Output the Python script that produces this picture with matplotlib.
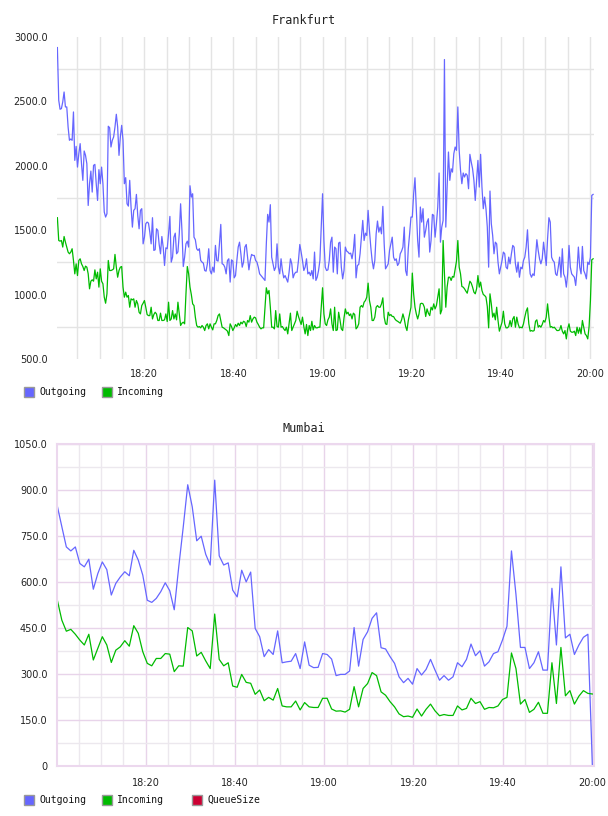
import numpy as np
import matplotlib
matplotlib.use("Agg")
import matplotlib.pyplot as plt
from matplotlib.patches import Rectangle
from matplotlib.ticker import FuncFormatter

# Frankfurt, values (bytes/s-ish), ~18 s samples 18:00 -> 20:01
fra_out = [2918, 2509, 2439, 2444, 2496, 2573, 2457, 2457, 2301, 2198,
           2208, 2198, 2418, 2042, 2151, 1990, 2094, 2172, 2016, 1887,
           2115, 2081, 2016, 1692, 1861, 1959, 1796, 2003, 2011, 1861,
           1731, 1970, 1861, 1990, 1861, 1641, 1602, 1628, 2307, 2296,
           2146, 2198, 2224, 2301, 2400, 2301, 2081, 2224, 2314, 2198,
           1861, 1908, 1705, 1687, 1887, 1680, 1524, 1654, 1667, 1778,
           1615, 1511, 1654, 1667, 1394, 1446, 1550, 1563, 1555, 1485,
           1394, 1597, 1343, 1348, 1511, 1498, 1389, 1317, 1451, 1369,
           1226, 1363, 1356, 1472, 1607, 1252, 1291, 1446, 1477, 1317,
           1332, 1472, 1705, 1498, 1218, 1291, 1394, 1415, 1369, 1845,
           1757, 1783, 1446, 1426, 1356, 1343, 1356, 1265, 1252, 1244,
           1187, 1182, 1239, 1356, 1187, 1161, 1213, 1174, 1382, 1265,
           1260, 1394, 1545, 1239, 1234, 1213, 1161, 1265, 1278, 1097,
           1270, 1260, 1130, 1148, 1265, 1369, 1407, 1317, 1213, 1252,
           1369, 1389, 1291, 1192, 1265, 1312, 1304, 1304, 1265, 1252,
           1213, 1161, 1148, 1135, 1122, 1110, 1394, 1623, 1563, 1698,
           1291, 1239, 1187, 1213, 1394, 1213, 1161, 1278, 1187, 1130,
           1148, 1122, 1097, 1174, 1278, 1239, 1130, 1161, 1174, 1174,
           1265, 1389, 1330, 1265, 1187, 1213, 1278, 1161, 1174, 1148,
           1187, 1122, 1330, 1110, 1135, 1187, 1265, 1524, 1783,
           1420, 1213, 1187, 1192, 1265, 1407, 1446, 1174, 1369, 1356,
           1161, 1400, 1407, 1213, 1122, 1187, 1369, 1338, 1330, 1317,
           1322, 1278, 1343, 1467, 1130, 1226, 1234, 1317, 1446, 1576,
           1420, 1477, 1459, 1654, 1498, 1369, 1265, 1200, 1265, 1472,
           1571, 1485, 1524, 1472, 1685, 1394, 1200, 1218, 1239, 1343,
           1394, 1446, 1291, 1265, 1278, 1226, 1244, 1317, 1338, 1369,
           1524, 1187, 1148, 1356, 1472, 1602, 1602, 1783, 1907, 1654,
           1420, 1291, 1680, 1563, 1667, 1446, 1498, 1563, 1589, 1330,
           1420, 1623, 1615, 1446, 1550, 1680, 1944, 1407, 1524, 1576,
           2825, 1524, 1835, 2107, 1887, 1977, 1951, 2094, 2146, 2120, 2457,
           2120, 1965, 1861, 1944, 1913, 1939, 1926, 1822, 2089, 2029,
           1977, 1887, 1731, 1887, 2042, 1835, 2089, 1835, 1667, 1757,
           1667, 1524, 1213, 1804, 1550, 1459, 1317, 1407, 1394, 1252,
           1161, 1213, 1265, 1330, 1317, 1213, 1200, 1291, 1239, 1317,
           1382, 1369, 1239, 1174, 1252, 1135, 1213, 1200, 1265, 1291,
           1369, 1503, 1291, 1161, 1135, 1161, 1148, 1291, 1426, 1343,
           1278, 1239, 1278, 1407, 1317, 1226, 1433, 1597, 1563, 1291,
           1265, 1252, 1161, 1148, 1213, 1291, 1135, 1356, 1161, 1135,
           1058, 1161, 1382, 1213, 1161, 1148, 1135, 1071, 1187, 1369,
           1213, 1161, 1374, 1187, 1161, 1122, 1252, 1234, 1291, 1770, 1778]

fra_in = [1597, 1420, 1415, 1420, 1369, 1451, 1407, 1369, 1330, 1317,
          1330, 1356, 1265, 1161, 1239, 1148, 1265, 1278, 1239, 1218,
          1187, 1221, 1213, 1161, 1045, 1104, 1115, 1104, 1192, 1122,
          1174, 1058, 1200, 1104, 1084, 980, 933, 1006, 1265, 1187,
          1187, 1192, 1200, 1312, 1213, 1135, 1187, 1213, 1218, 1058,
          980, 1019, 980, 993, 902, 967, 959, 967, 902, 954,
          928, 863, 850, 915, 933, 954, 902, 845, 837, 837,
          902, 811, 845, 863, 850, 799, 799, 856, 799, 799,
          804, 850, 791, 941, 799, 811, 876, 811, 850, 804,
          941, 850, 760, 778, 786, 773, 1006, 1218,
          1161, 1058, 1001, 928, 915, 825, 760, 747, 752, 742,
          760, 747, 721, 760, 773, 734, 773, 747, 726, 773,
          773, 799, 837, 850, 799, 747, 742, 734, 726, 716,
          682, 773, 752, 721, 742, 768, 752, 778, 760, 786,
          773, 793, 786, 752, 799, 786, 837, 786, 811, 825,
          819, 786, 768, 747, 734, 742, 742, 902, 1053, 1006,
          1032, 902, 747, 747, 734, 876, 752, 747, 850, 747,
          752, 734, 721, 747, 695, 773, 856, 721, 747, 773,
          799, 871, 830, 799, 768, 825, 752, 695, 768, 682,
          760, 721, 793, 726, 760, 742, 742, 747, 747, 902, 1053,
          850, 773, 760, 804, 825, 889, 773, 721, 902, 721,
          726, 863, 804, 734, 721, 819, 889, 850, 863, 837,
          850, 811, 856, 845, 734, 747, 773, 902, 915, 902,
          941, 954, 980, 1089, 954, 902, 799, 799, 825, 902,
          915, 902, 902, 928, 975, 825, 773, 768, 863, 837,
          845, 830, 830, 811, 799, 793, 786, 778, 804, 850,
          811, 752, 721, 799, 850, 902, 1167, 1006, 902, 850,
          811, 850, 928, 933, 928, 902, 830, 889, 856, 837,
          902, 881, 928, 889, 915, 980, 1045, 850, 881, 1420,
          1161, 902, 1058, 1135, 1135, 1110, 1141, 1135, 1200, 1260, 1420,
          1213, 1161, 1063, 1058, 1045, 1027, 1011, 1058, 1104, 1089,
          1058, 1019, 1006, 1045, 1148, 1058, 1097, 1032, 1001, 993,
          980, 907, 742, 1006, 928, 825, 856, 804, 902, 799,
          716, 752, 786, 871, 773, 742, 742, 752, 799, 752,
          811, 830, 747, 825, 773, 742, 747, 742, 773, 825,
          871, 897, 773, 716, 721, 716, 721, 793, 804, 747,
          760, 747, 768, 799, 786, 825, 928, 825, 747, 752,
          742, 747, 734, 721, 721, 726, 760, 716, 695, 721,
          656, 734, 773, 716, 708, 708, 716, 682, 747, 700,
          742, 695, 799, 747, 695, 682, 656, 752, 954, 1270, 1278]

# Mumbai, one sample per minute
mum_out = [848, 781, 715, 702, 715, 661, 650, 675, 577, 628,
           666, 641, 558, 596, 617, 634, 621, 704, 672, 623,
           541, 534, 547, 569, 598, 572, 510, 650, 780, 918,
           846, 735, 750, 691, 656, 933, 686, 656, 663, 574,
           552, 639, 601, 633, 449, 422, 357, 380, 364, 441,
           337, 340, 342, 367, 318, 405, 329, 321, 322, 367,
           364, 349, 295, 299, 299, 310, 452, 326, 413, 438,
           482, 500, 386, 382, 357, 335, 291, 272, 286, 267,
           318, 297, 315, 348, 313, 280, 295, 280, 291, 337,
           324, 348, 398, 360, 376, 326, 340, 367, 373, 411,
           456, 702, 560, 387, 387, 318, 337, 373, 313, 313,
           580, 395, 650, 418, 430, 364, 395, 420, 430, 0]

mum_in = [541, 476, 440, 446, 430, 411, 395, 430, 346, 384,
          422, 395, 338, 378, 389, 409, 391, 458, 433, 373,
          335, 327, 351, 351, 367, 365, 308, 327, 326, 452,
          441, 359, 371, 343, 318, 496, 348, 327, 337, 261,
          257, 299, 273, 270, 234, 248, 213, 224, 215, 253,
          196, 193, 193, 212, 183, 207, 193, 191, 191, 221,
          221, 186, 179, 180, 176, 185, 259, 193, 253, 269,
          305, 295, 242, 231, 210, 193, 170, 161, 163, 159,
          186, 163, 185, 202, 180, 164, 168, 165, 165, 196,
          183, 188, 221, 204, 210, 185, 191, 190, 196, 217,
          224, 369, 318, 202, 217, 175, 185, 208, 172, 172,
          337, 204, 387, 229, 246, 202, 228, 246, 237, 235]

mum_queue = [0] * len(mum_out)

# minutes after 18:00
fra_t = np.linspace(0.5, 120.7, len(fra_out))
fra_t_in = np.linspace(0.5, 120.7, len(fra_in))
mum_t = np.linspace(0.2, 120.1, len(mum_out))

C_OUT = "#6666ff"
C_IN = "#00bb00"
C_Q = "#cc0033"
W, H = 608, 816


def hhmm(m, pos=None):
    m = int(round(m))
    return "%d:%02d" % (18 + m // 60, m % 60)


def box(x0, y0, x1, y1):
    return [x0 / W, 1 - y1 / H, (x1 - x0) / W, (y1 - y0) / H]


def legend(y, items):
    for x, label, col in items:
        fig.add_artist(Rectangle((x / W, 1 - (y + 5) / H), 10 / W, 10 / H,
                                 transform=fig.transFigure, fc=col,
                                 ec="#999999", lw=1))
        fig.text((x + 15) / W, 1 - y / H, label, family="DejaVu Sans Mono",
                 fontsize=7, va="center", ha="left", color="#111111")


fig = plt.figure(figsize=(W / 100, H / 100), dpi=100)

# ---- Frankfurt
ax1 = fig.add_axes(box(57.3, 37, 594, 359))
ax1.plot(fra_t, fra_out, color=C_OUT, lw=0.9)
ax1.plot(fra_t_in, fra_in, color=C_IN, lw=0.9)
ax1.set_xlim(0.48, 120.9)
ax1.set_ylim(500, 3000)
ax1.set_xticks(range(20, 121, 20))
ax1.set_xticks(range(5, 121, 5), minor=True)
ax1.set_yticks(range(500, 3001, 500))
ax1.set_yticks(range(750, 3000, 500), minor=True)
ax1.xaxis.set_major_formatter(FuncFormatter(hhmm))
ax1.yaxis.set_major_formatter(FuncFormatter(lambda v, p: "%.1f" % v))
ax1.grid(axis="x", which="both", color="#e4e4e4", lw=1)
ax1.grid(axis="y", which="minor", color="#e4e4e4", lw=1)
ax1.set_axisbelow(True)
for s in ax1.spines.values():
    s.set_visible(False)
ax1.tick_params(which="both", length=0, labelsize=7, colors="#222222")
ax1.tick_params(axis="x", pad=7)
ax1.tick_params(axis="y", pad=7)
fig.text(0.5, 1 - 20 / H, "Frankfurt", ha="center", va="center",
         family="DejaVu Sans Mono", fontsize=8.5, color="#222222")
legend(392, [(24, "Outgoing", C_OUT), (102, "Incoming", C_IN)])

# ---- Mumbai
ax2 = fig.add_axes(box(57.3, 444.3, 594, 766))
ax2.plot(mum_t, mum_out, color=C_OUT, lw=0.9)
ax2.plot(mum_t, mum_in, color=C_IN, lw=0.9)
ax2.plot(mum_t, mum_queue, color=C_Q, lw=1.2, clip_on=False)
ax2.set_xlim(0.19, 120.46)
ax2.set_ylim(0, 1050)
ax2.set_xticks(range(20, 121, 20))
ax2.set_xticks(range(5, 121, 5), minor=True)
ax2.set_yticks(range(0, 1051, 150))
ax2.set_yticks(range(75, 1050, 150), minor=True)
ax2.xaxis.set_major_formatter(FuncFormatter(hhmm))
ax2.yaxis.set_major_formatter(FuncFormatter(lambda v, p: "0" if v == 0 else "%.1f" % v))
ax2.grid(which="major", color="#e8d4ea", lw=1)
ax2.grid(which="minor", color="#ece8ee", lw=1)
ax2.set_axisbelow(True)
for s in ax2.spines.values():
    s.set_color("#ecd8ee")
    s.set_linewidth(1.5)
ax2.tick_params(which="both", length=0, labelsize=7, colors="#222222")
ax2.tick_params(axis="x", pad=9)
ax2.tick_params(axis="y", pad=7)
fig.text(0.5, 1 - 429 / H, "Mumbai", ha="center", va="center",
         family="DejaVu Sans Mono", fontsize=8.5, color="#222222")
legend(800, [(24, "Outgoing", C_OUT), (102, "Incoming", C_IN), (192, "QueueSize", C_Q)])

fig.savefig("out.png", dpi=100)
